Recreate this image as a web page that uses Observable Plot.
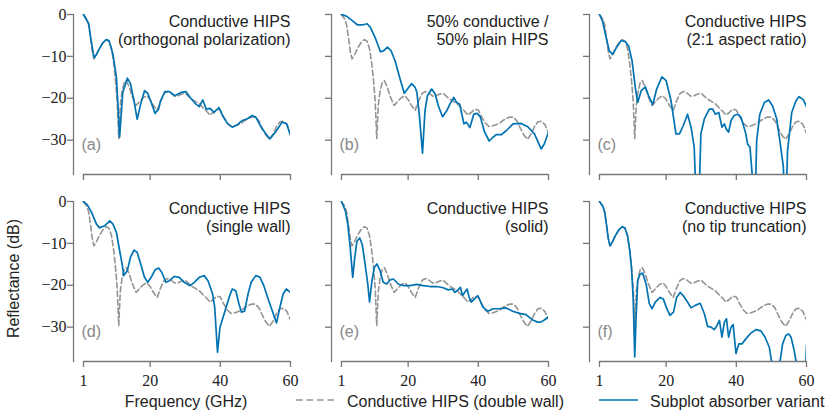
<!DOCTYPE html>
<html>
<head>
<meta charset="utf-8">
<script src="https://cdn.jsdelivr.net/npm/d3@7"></script>
<script src="https://cdn.jsdelivr.net/npm/@observablehq/plot@0.6"></script>
<style>
  body { margin: 0; background: #fff; }
  #wrap { width: 830px; position: relative; }
  #foot { position: relative; width: 830px; height: 23px; font-family: "Liberation Sans", Arial, sans-serif; font-size: 16px; color: #222; }
  #foot span { position: absolute; top: 2px; line-height: 16px; white-space: nowrap; }
  #foot svg { position: absolute; top: 1px; }
</style>
</head>
<body>
<div id="wrap">
  <div id="chart"></div>
  <div id="foot"></div>
</div>
<script>
// ---------- data ----------
const panelIds = ["a", "b", "c", "d", "e", "f"];
const panelTitles = [
  "Conductive HIPS\n(orthogonal polarization)",
  "50% conductive /\n50% plain HIPS",
  "Conductive HIPS\n(2:1 aspect ratio)",
  "Conductive HIPS\n(single wall)",
  "Conductive HIPS\n(solid)",
  "Conductive HIPS\n(no tip truncation)"
];
const xTicks = [1, 20, 40, 60];
const yTicks = [0, -10, -20, -30];
const xLabel = "Frequency (GHz)";
const yLabel = "Reflectance (dB)";
const refName = "Conductive HIPS (double wall)";
const varName = "Subplot absorber variant";

// reference: Conductive HIPS (double wall), same in every panel
const freqRef = [1,2,2.5,3,3.5,4,4.6,5.5,6.5,7.5,8.3,9,9.6,10.1,10.6,11.05,11.5,12,12.6,13.2,14,15,16,17,18,19,20,21,22,23,24,25,26,27,28,29,30,31,32,33,34,35,36,37,38,39,40,41,42,43,44,45,46,47,48,49,50,51,52,53,54,55,56,57,58,59,60];
const dbRef = [0,-1.2,-2.6,-5.5,-8.8,-10.6,-9.8,-8.2,-6.8,-6.0,-6.4,-8.2,-11.5,-15.5,-20.5,-29.6,-21.5,-18.3,-16.3,-15.8,-17.2,-19.8,-21.7,-20.8,-19.9,-19.4,-20.3,-21.8,-22.9,-20.6,-18.8,-18.4,-18.8,-19.5,-19.4,-19.0,-18.8,-19.6,-20.3,-20.8,-21.3,-22.2,-23.0,-24.0,-23.4,-22.6,-22.8,-24.5,-25.9,-26.7,-26.6,-26.3,-26.0,-25.3,-24.8,-24.5,-24.5,-25.4,-27.2,-28.8,-29.8,-28.6,-26.8,-25.6,-25.5,-26.3,-28.3];

// (a) orthogonal polarization
const freqA = [1,2.5,3,4,4.6,5.5,6.5,7.5,8.3,9.4,10.4,11.3,12.2,13.5,14.4,15.4,16.3,17.3,18.4,19.3,20.3,21.4,22.4,23,24.2,25.5,27,28.8,30.2,31.4,32.8,34,35,36,37.1,38.2,39.6,40.6,42,43.4,44.9,46.3,47.7,49.1,50.1,51.9,54.1,55.7,57.6,58.9,60];
const dbA = [0,-2.2,-5.2,-10.3,-9.7,-8.2,-6.8,-6,-6.3,-9.5,-15,-29.3,-18.6,-15.2,-16.5,-20.6,-25,-21.4,-18.2,-18.8,-21,-23.6,-22.6,-20.6,-18.4,-18.4,-19.4,-18.6,-18.4,-19.8,-21.2,-22,-20.4,-22.6,-22.4,-23.4,-22.2,-24.1,-26,-26.9,-26.3,-25.3,-24.9,-24.1,-24.5,-27.3,-29.7,-28.1,-25.7,-26.1,-28.9];

// (b) 50% conductive / 50% plain
const freqB = [1,2.4,4,5.6,6.9,8.3,9.2,10.6,12.1,13,14.1,15.1,16.3,17.7,18.9,19.8,21,22,22.5,23.2,24.1,24.8,25.5,26.7,27.7,28.6,29.8,31,31.9,33,33.8,34.7,35.2,35.9,36.6,37.6,38.7,39.7,40.6,41.8,43.1,44.2,45.1,46.6,48,49.9,52.2,54.1,56,57.9,58.8,60];
const dbB = [0,-0.4,-1.4,-2.5,-2.5,-2.2,-3,-5.5,-8.9,-8.7,-7.8,-8.6,-11.1,-15.4,-18.8,-17.8,-16.5,-17.4,-18.6,-24.1,-33.1,-23,-19.4,-17.8,-19,-21.8,-24.4,-23,-21.4,-19.8,-21,-21.4,-23.4,-26.1,-25.7,-27,-23.8,-23.6,-24.5,-28.1,-30.2,-29.3,-28.7,-28.7,-27.7,-26.1,-26,-26.8,-28.5,-32.1,-30.9,-28.1];

// (c) 2:1 aspect ratio
const freqC = [1,1.9,2.9,3.8,4.8,5.9,7.2,8.4,9.3,10.3,11.2,11.9,12.9,14.1,15,16.2,17.3,18.8,20,21.4,22.8,23.8,24.9,26.1,27.1,28,29,29.9,30.9,32.3,33.3,34,35,35.9,36.6,37.1,37.8,38.5,39.4,40.4,41.3,42.6,43.2,43.9,44.5,45.1,45.8,46.7,48,49.2,50.3,51.5,52.4,53.4,54,54.6,55.8,57,57.9,59.1,60];
const dbC = [0,-1.6,-5.5,-8.7,-9.5,-7.8,-6.2,-6.5,-7.5,-11.1,-17.4,-21,-18.2,-17.3,-19.4,-21.5,-17.8,-14.9,-15.8,-20.6,-28.5,-28.5,-26.5,-23.8,-26.9,-31.7,-55,-28.5,-24.9,-22.6,-22.6,-23.8,-23.4,-26.9,-26.1,-27.3,-28.1,-25.3,-24.1,-23.8,-24.5,-28.1,-30.9,-31.7,-38,-55,-30.1,-23.8,-21,-20.4,-21.8,-24.9,-30.1,-36.4,-50,-32.5,-23.4,-20.6,-19.6,-20.4,-22];

// (d) single wall
const freqD = [1,2.1,3.3,4.7,5.6,7,8.5,9.4,10.4,11.3,12,12.5,13.5,14.4,15.4,16.3,17.3,18.4,19.3,20.3,21.4,22.4,23.3,24.5,25.5,26.9,28.3,29.7,31.4,32.6,34,35.4,36.5,37.8,38.4,39.2,39.9,41.1,42.5,43.4,44.4,45.3,46,46.9,47.9,48.8,50.1,51.3,52.4,53.8,55.1,56,57,57.9,58.8,60];
const dbD = [0,-0.8,-2.6,-5.4,-6.3,-5.8,-4.6,-5.4,-7.4,-11.7,-14.9,-17.7,-16.5,-13.3,-11.6,-12.1,-14.9,-18.1,-19.3,-18.1,-16.3,-15.9,-16.9,-19.3,-18.9,-17.9,-18.1,-19.3,-20.1,-19.3,-18.1,-17.7,-18.9,-22.1,-25.2,-36,-30,-26.8,-22.9,-20.9,-21.3,-24.4,-26.4,-26.2,-22.1,-19.3,-17.7,-18.1,-20.1,-23.7,-26.8,-29,-25.2,-22.1,-20.9,-21.7];

// (e) solid
const freqE = [1,2.1,2.8,3.5,4.2,4.8,5.4,6.2,6.9,7.6,8.5,9,9.7,10.4,11.1,12,12.9,13.9,14.9,15.8,17.2,18.7,20.5,22.4,24.3,26.2,28.1,30,31.4,32.6,33.3,34.2,34.9,35.5,36.1,36.8,37.4,38,39,39.9,41.3,42.7,44.2,46,47.9,49.8,51.7,53.6,55.5,56.9,57.8,58.8,60];
const dbE = [0,-2.2,-5.4,-11,-18.1,-13.3,-9.5,-8.7,-10.2,-14.1,-19.7,-24,-18.9,-15.7,-14.9,-16.5,-19.3,-19.7,-18.7,-18.5,-19.7,-20.1,-20.1,-19.8,-20.1,-20.3,-20.3,-20.6,-21.1,-20.9,-21.7,-21.1,-20.5,-22.5,-21.7,-20.9,-22.9,-24,-23.2,-22.5,-25.2,-26.2,-25.6,-25.6,-25.4,-26.2,-26.7,-27,-28.3,-28.8,-28.8,-28.3,-27.5];

// (f) no tip truncation (coincides with the reference below ~10 GHz)
const freqF = [1,2,2.5,3,3.5,4,4.6,5.5,6.5,7.5,8.3,9,9.6,10.1,10.6,11.05,11.4,11.9,12.6,13.3,14.3,15.2,16,16.9,18.3,19.2,20.2,21.1,22.1,23,24,24.9,26.1,27.1,28.3,29.7,30.9,31.8,32.8,33.7,34.5,35.2,35.9,36.6,37.2,37.8,38.5,39.1,39.9,40.7,41.6,42.7,44.2,45.6,47,48.2,49.4,50.1,51.2,52.4,53.2,54.1,54.9,55.6,56.5,57.1,58.4,59.8,60];
const dbF = [0,-1.2,-2.6,-5.5,-8.8,-10.6,-9.8,-8.2,-6.8,-6.0,-6.4,-8.2,-11.5,-15.5,-22.9,-37.1,-28.4,-18.9,-17.3,-17.1,-19.7,-24.4,-25.6,-24,-22.9,-23.3,-25.6,-27.2,-26.4,-22.9,-21.7,-22.5,-24,-25.4,-24.8,-24.3,-26.8,-29.8,-30,-30.6,-29.6,-28.4,-32.4,-28.8,-28,-32.4,-30,-29.4,-36.3,-34,-34,-32.8,-31.4,-30.6,-30.9,-32.4,-34.8,-38.5,-46,-38.5,-34,-32,-31.6,-32.4,-35.6,-38.5,-48,-39,-34.4];

const variantFreqs = [freqA, freqB, freqC, freqD, freqE, freqF];
const variantDbs = [dbA, dbB, dbC, dbD, dbE, dbF];

// ---------- styles ----------
const blue = "#0173b2";
const gray = "#949494";
const axisColor = "#777";
const textColor = "#222";
const sans = "Liberation Sans, Arial, sans-serif";
const serif = "Liberation Serif, Times New Roman, serif";

// ---------- tables ----------
const panelRows = panelIds.map((id, i) => ({id, title: panelTitles[i], col: i % 3, row: Math.floor(i / 3)}));
const refRows = panelRows.flatMap(p => freqRef.map((f, j) => ({col: p.col, row: p.row, f, db: dbRef[j]})));
const varRows = panelRows.flatMap((p, i) => variantFreqs[i].map((f, j) => ({col: p.col, row: p.row, f, db: variantDbs[i][j]})));
const fmt = d => d === 0 ? "0" : (d < 0 ? "\u2212" : "") + Math.abs(d);

const chart = Plot.plot({
  width: 830,
  height: 392,
  marginLeft: 72,
  marginRight: 22,
  marginTop: 13,
  marginBottom: 30,
  style: {fontFamily: serif, fontSize: "16px", background: "#fff", color: textColor, overflow: "visible"},
  fx: {domain: [0, 1, 2], paddingInner: 0.1583, paddingOuter: 0, axis: null},
  fy: {domain: [0, 1], paddingInner: 0.1436, paddingOuter: 0, axis: null},
  x: {domain: [-1.84, 60]},
  y: {domain: [-38.2, 0]},
  marks: [
    Plot.frame({anchor: "left", stroke: axisColor, strokeWidth: 1.3}),
    Plot.ruleY([-38.2], {x1: xTicks[0], x2: xTicks[xTicks.length - 1], stroke: axisColor, strokeWidth: 1.3}),
    Plot.axisY({ticks: yTicks, tickSize: 6, fill: "none", stroke: axisColor, strokeWidth: 1.3, facetAnchor: null, label: null}),
    Plot.axisY({ticks: yTicks, tickSize: 0, tickPadding: 7, tickFormat: fmt, fill: textColor, fontFamily: serif, fontSize: 16, label: null}),
    Plot.axisX({ticks: xTicks, tickSize: 6, fill: "none", stroke: axisColor, strokeWidth: 1.3, facetAnchor: null, label: null}),
    Plot.axisX({ticks: xTicks, tickSize: 0, tickPadding: 13, tickFormat: d => String(d), fill: textColor, fontFamily: serif, fontSize: 16, label: null}),
    Plot.line(refRows, {x: "f", y: "db", fx: "col", fy: "row", stroke: gray, strokeWidth: 1.6, strokeDasharray: "5.5,3", clip: true}),
    Plot.line(varRows, {x: "f", y: "db", fx: "col", fy: "row", stroke: blue, strokeWidth: 1.7, clip: true}),
    Plot.text(panelRows, {fx: "col", fy: "row", text: "title", frameAnchor: "top-right", textAnchor: "end", lineAnchor: "top", lineHeight: 1.125, fontFamily: sans, fontSize: 16, fill: textColor}),
    Plot.text(panelRows, {fx: "col", fy: "row", text: d => `(${d.id})`, frameAnchor: "bottom-left", textAnchor: "start", lineAnchor: "middle", dx: 8, dy: -30, fontFamily: sans, fontSize: 16, fill: "#888"}),
    Plot.text([{col: 0, row: 1, t: yLabel}], {fx: "col", fy: "row", text: "t", frameAnchor: "left", rotate: -90, textAnchor: "middle", lineAnchor: "middle", dx: -60, dy: -3, fontFamily: sans, fontSize: 16, fill: textColor})
  ]
});
document.getElementById("chart").appendChild(chart);

// ---------- footer: x label + legend ----------
const foot = document.getElementById("foot");
function addSpan(txt, left, center) {
  const s = document.createElement("span");
  s.textContent = txt;
  s.style.left = left + "px";
  if (center) s.style.transform = "translateX(-50%)";
  foot.appendChild(s);
}
function addSwatch(left, color, dash) {
  const ns = "http://www.w3.org/2000/svg";
  const svg = document.createElementNS(ns, "svg");
  svg.setAttribute("width", 40);
  svg.setAttribute("height", 14);
  svg.style.left = left + "px";
  const l = document.createElementNS(ns, "line");
  l.setAttribute("x1", 0); l.setAttribute("x2", 39);
  l.setAttribute("y1", 7); l.setAttribute("y2", 7);
  l.setAttribute("stroke", color);
  l.setAttribute("stroke-width", 1.7);
  if (dash) l.setAttribute("stroke-dasharray", dash);
  svg.appendChild(l);
  foot.appendChild(svg);
}
addSpan(xLabel, 186, true);
addSwatch(296, gray, "6.5,4");
addSpan(refName, 347, false);
addSwatch(599, blue, null);
addSpan(varName, 650, false);
</script>
</body>
</html>
